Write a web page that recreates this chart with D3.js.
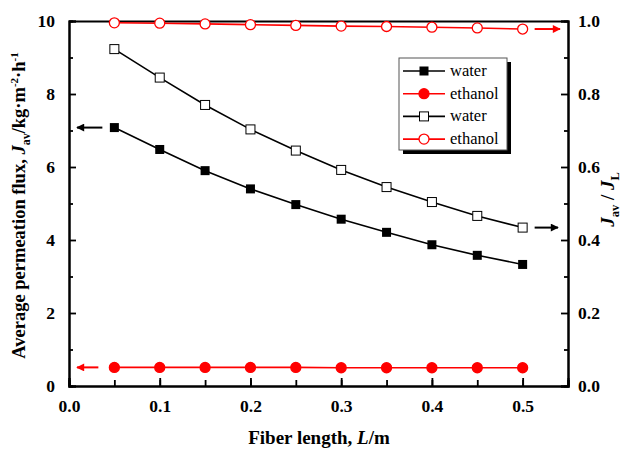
<!DOCTYPE html>
<html>
<head>
<meta charset="utf-8">
<script src="https://cdn.jsdelivr.net/npm/d3@7"></script>
<style>
  html, body { margin: 0; padding: 0; background: #fff; }
  svg { display: block; }
</style>
</head>
<body>
<svg id="chart" width="635" height="450" font-family="Times New Roman">
  <text x="319" y="444" text-anchor="middle" font-size="19" font-weight="bold">Fiber length, <tspan font-style="italic">L</tspan>/m</text>
  <text transform="translate(25,205.5) rotate(-90)" text-anchor="middle" font-size="18.5" font-weight="bold">Average permeation flux, <tspan font-style="italic">J</tspan><tspan font-size="12" dy="5">av</tspan><tspan dy="-5">/kg·m</tspan><tspan font-size="11" dy="-7">-2</tspan><tspan dy="7">·h</tspan><tspan font-size="11" dy="-7">-1</tspan></text>
  <text transform="translate(614,199.5) rotate(-90)" text-anchor="middle" font-size="19" font-weight="bold"><tspan font-style="italic">J</tspan><tspan font-size="12.5" dy="5">av</tspan><tspan dy="-5"> / </tspan><tspan font-style="italic">J</tspan><tspan font-size="12.5" dy="5">L</tspan></text>
</svg>
<script>
// Fiber length (m)
const fiberLength = [0.05, 0.10, 0.15, 0.20, 0.25, 0.30, 0.35, 0.40, 0.45, 0.50];
// Average permeation flux, kg·m-2·h-1 (left axis)
const waterFlux   = [7.08, 6.48, 5.90, 5.40, 4.97, 4.57, 4.21, 3.87, 3.58, 3.33];
const ethanolFlux = [0.51, 0.51, 0.51, 0.51, 0.51, 0.50, 0.50, 0.50, 0.50, 0.50];
// Ratio J_av / J_L (right axis)
const waterRatio   = [0.923, 0.845, 0.770, 0.703, 0.645, 0.592, 0.545, 0.504, 0.466, 0.434];
const ethanolRatio = [0.995, 0.994, 0.992, 0.990, 0.988, 0.986, 0.985, 0.983, 0.981, 0.978];

const xTicks = [0.0, 0.1, 0.2, 0.3, 0.4, 0.5];
const leftTicks = [0, 2, 4, 6, 8, 10];
const rightTicks = [0.0, 0.2, 0.4, 0.6, 0.8, 1.0];

const FONT = "Times New Roman";
const svg = d3.select("#chart");
const L = 69, R = 568, T = 21, B = 386;

const x = d3.scaleLinear().domain([0, 0.55]).range([L, R]);
const yL = d3.scaleLinear().domain([0, 10]).range([B, T]);
const yR = d3.scaleLinear().domain([0, 1]).range([B, T]);

const defs = svg.append("defs");
function arrowHead(id, color) {
  defs.append("marker").attr("id", id)
    .attr("viewBox", "0 0 10 10").attr("refX", 9).attr("refY", 5)
    .attr("markerWidth", 5).attr("markerHeight", 4).attr("orient", "auto")
    .attr("markerUnits", "strokeWidth")
    .append("path").attr("d", "M0,0 L10,5 L0,10 Z").attr("fill", color);
}
arrowHead("arrBlack", "#000");
arrowHead("arrRed", "#ff0000");

// Axes (ticks drawn inward)
const axB = svg.append("g").attr("transform", `translate(0,${B})`)
  .call(d3.axisBottom(x).tickValues(d3.range(0, 0.551, 0.05)).tickSize(-6).tickFormat(""));
const axBl = svg.append("g").attr("transform", `translate(0,${B})`)
  .call(d3.axisBottom(x).tickValues(xTicks).tickSize(-8).tickFormat(d3.format(".1f")).tickPadding(14));
const axT = svg.append("g").attr("transform", `translate(0,${T})`)
  .call(d3.axisTop(x).tickValues([]).tickSize(0));
const axLm = svg.append("g").attr("transform", `translate(${L},0)`)
  .call(d3.axisLeft(yL).tickValues(d3.range(1, 10, 2)).tickSize(-4).tickFormat(""));
const axLl = svg.append("g").attr("transform", `translate(${L},0)`)
  .call(d3.axisLeft(yL).tickValues(leftTicks).tickSize(-7).tickFormat(d3.format("d")).tickPadding(14));
const axRm = svg.append("g").attr("transform", `translate(${R},0)`)
  .call(d3.axisRight(yR).tickValues(d3.range(0.1, 1, 0.2)).tickSize(-4).tickFormat(""));
const axRl = svg.append("g").attr("transform", `translate(${R},0)`)
  .call(d3.axisRight(yR).tickValues(rightTicks).tickSize(-7).tickFormat(d3.format(".1f")).tickPadding(10));

[axB, axBl, axT, axLm, axLl, axRm, axRl].forEach(g => {
  g.attr("font-family", FONT);
  g.select(".domain").attr("stroke", "#000").attr("stroke-width", 2);
  g.selectAll(".tick line").attr("stroke", "#000").attr("stroke-width", 1.8);
  g.selectAll("text").attr("font-size", 17.5).attr("font-weight", "bold");
});

// Series
function drawLine(xs, ys, scale, color) {
  svg.append("path")
    .datum(xs.map((v, i) => [v, ys[i]]))
    .attr("fill", "none").attr("stroke", color).attr("stroke-width", 1.6)
    .attr("d", d3.line().x(d => x(d[0])).y(d => scale(d[1])));
}
drawLine(fiberLength, waterFlux, yL, "#000");
drawLine(fiberLength, ethanolFlux, yL, "#ff0000");
drawLine(fiberLength, waterRatio, yR, "#000");
drawLine(fiberLength, ethanolRatio, yR, "#ff0000");

function squares(ys, scale, filled) {
  svg.append("g").selectAll("rect").data(ys).join("rect")
    .attr("x", (d, i) => x(fiberLength[i]) - 4.5)
    .attr("y", d => scale(d) - 4.5)
    .attr("width", 9).attr("height", 9)
    .attr("fill", filled ? "#000" : "#fff")
    .attr("stroke", filled ? "none" : "#000").attr("stroke-width", 1);
}
function circles(ys, scale, filled) {
  svg.append("g").selectAll("circle").data(ys).join("circle")
    .attr("cx", (d, i) => x(fiberLength[i]))
    .attr("cy", d => scale(d))
    .attr("r", 5)
    .attr("fill", filled ? "#ff0000" : "#fff")
    .attr("stroke", "#ff0000").attr("stroke-width", 1.3);
}
squares(waterFlux, yL, true);
circles(ethanolFlux, yL, true);
squares(waterRatio, yR, false);
circles(ethanolRatio, yR, false);

// Arrows indicating which axis each series belongs to
function arrow(x1, y1, x2, y2, color, id) {
  svg.append("line").attr("x1", x1).attr("y1", y1).attr("x2", x2).attr("y2", y2)
    .attr("stroke", color).attr("stroke-width", 2).attr("marker-end", `url(#${id})`);
}
arrow(x(0.05) - 12, yL(waterFlux[0]), L + 8, yL(waterFlux[0]), "#000", "arrBlack");
arrow(x(0.05) - 16, yL(ethanolFlux[0]), L + 8, yL(ethanolFlux[0]), "#ff0000", "arrRed");
arrow(x(0.5) + 12, yR(waterRatio[9]), R - 10, yR(waterRatio[9]), "#000", "arrBlack");
arrow(x(0.5) + 12, yR(ethanolRatio[9]), R - 8, yR(ethanolRatio[9]), "#ff0000", "arrRed");

// Legend
const lg = svg.append("g").attr("transform", "translate(399,58)").attr("font-family", FONT);
lg.append("rect").attr("x", 4).attr("y", 4).attr("width", 108).attr("height", 92).attr("fill", "#000");
lg.append("rect").attr("x", 0).attr("y", 0).attr("width", 108).attr("height", 92)
  .attr("fill", "#fff").attr("stroke", "#555").attr("stroke-width", 1);
const items = [
  { label: "water", color: "#000", shape: "square", filled: true },
  { label: "ethanol", color: "#ff0000", shape: "circle", filled: true },
  { label: "water", color: "#000", shape: "square", filled: false },
  { label: "ethanol", color: "#ff0000", shape: "circle", filled: false }
];
items.forEach((it, i) => {
  const cy = 13 + i * 22.7;
  lg.append("line").attr("x1", 4).attr("x2", 46).attr("y1", cy).attr("y2", cy)
    .attr("stroke", it.color).attr("stroke-width", 1.6);
  if (it.shape === "square") {
    lg.append("rect").attr("x", 25 - 4.5).attr("y", cy - 4.5).attr("width", 9).attr("height", 9)
      .attr("fill", it.filled ? "#000" : "#fff").attr("stroke", it.filled ? "none" : "#000");
  } else {
    lg.append("circle").attr("cx", 25).attr("cy", cy).attr("r", 5)
      .attr("fill", it.filled ? "#ff0000" : "#fff").attr("stroke", "#ff0000").attr("stroke-width", 1.3);
  }
  lg.append("text").attr("x", 51).attr("y", cy + 5).attr("font-size", 16.5).text(it.label);
});
</script>
</body>
</html>
